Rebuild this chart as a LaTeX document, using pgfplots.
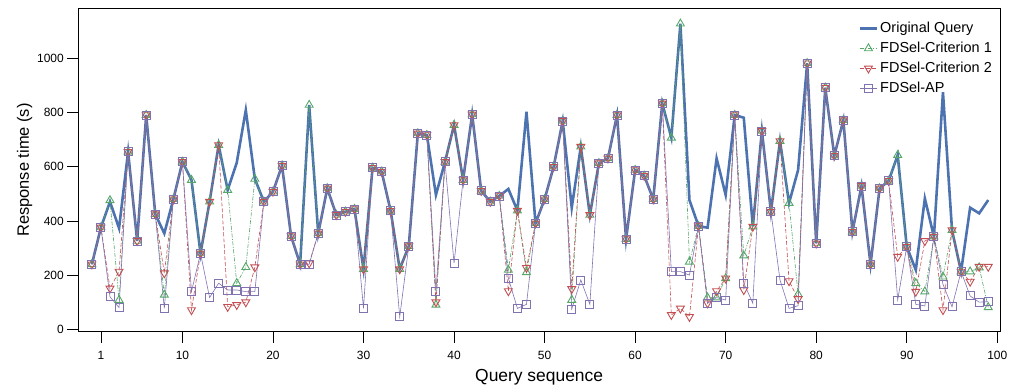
\documentclass[border=0pt]{standalone}
\usepackage{fontspec}
\setmainfont{Liberation Sans}
\usepackage{pgfplots}
\usepackage{pgfplotstable}
\pgfplotsset{compat=1.18}
\definecolor{sbblue}{HTML}{4C72B0}
\definecolor{sbgreen}{HTML}{55A868}
\definecolor{sbred}{HTML}{C44E52}
\definecolor{sbpurple}{HTML}{8172B2}
\pgfplotstableread{
x O C1 C2 AP
0 240 240 240 240
1 376 376 376 376
2 471 476 151 120
3 373 108 213 80
4 655 655 655 655
5 326 326 326 326
6 791 791 791 791
7 425 425 425 425
8 354 127 207 77
9 480 480 480 480
10 618 618 618 618
11 551 551 71 139
12 280 280 280 280
13 471 471 471 117
14 680 680 680 170
15 514 514 83 145
16 615 170 90 145
17 809 229 100 139
18 555 555 229 139
19 471 471 471 471
20 508 508 508 508
21 604 604 604 604
22 344 344 344 344
23 240 240 240 240
24 828 828 244 240
25 354 354 354 354
26 520 520 520 520
27 422 422 422 422
28 434 434 434 434
29 444 444 444 444
30 222 222 222 77
31 596 596 596 596
32 582 582 582 582
33 437 437 437 437
34 222 222 222 46
35 307 307 307 307
36 723 723 723 723
37 717 717 717 717
38 496 90 100 141
39 618 618 618 618
40 754 754 754 244
41 551 551 551 551
42 793 793 793 793
43 511 511 511 511
44 471 471 471 471
45 492 492 492 492
46 518 219 141 188
47 438 438 438 77
48 803 210 227 92
49 391 391 391 391
50 480 480 480 480
51 600 600 600 600
52 769 769 769 769
53 449 108 149 75
54 674 674 674 182
55 422 422 422 92
56 613 613 613 613
57 631 631 631 631
58 791 791 791 791
59 333 333 333 333
60 588 588 588 588
61 567 567 567 567
62 480 480 480 480
63 834 834 834 834
64 707 707 53 213
65 1128 1128 77 213
66 477 249 46 200
67 381 381 381 381
68 375 117 96 96
69 631 117 141 117
70 496 188 188 108
71 791 791 791 791
72 781 272 145 170
73 379 379 379 96
74 732 732 732 732
75 434 434 434 434
76 695 695 695 182
77 466 466 178 77
78 588 129 112 87
79 982 982 982 982
80 317 317 317 317
81 892 892 892 892
82 641 641 641 641
83 772 772 772 772
84 360 360 360 360
85 529 529 529 529
86 240 240 240 240
87 520 520 520 520
88 548 548 548 548
89 643 643 268 108
90 305 305 305 305
91 219 170 139 92
92 483 139 326 86
93 342 342 342 342
94 875 194 71 166
95 366 366 366 83
96 213 213 213 213
97 449 213 176 123
98 428 228 231 100
99 477 81 231 102
}\data
\begin{document}
\begin{tikzpicture}
\begin{axis}[
  width=921.7bp, height=323.4bp, scale only axis,
  xmin=-1.5, xmax=100.3, ymin=-9, ymax=1185,
  xtick={1,10,20,30,40,50,60,70,80,90,100},
  ytick={0,200,400,600,800,1000},
  xtick pos=bottom, ytick pos=left,
  tick align=outside,
  major tick length=11bp,
  tick style={black, line width=0.8pt},
  axis line style={black, line width=1pt},
  /pgf/number format/assume math mode=true,
  /pgf/number format/1000 sep={},
  tick label style={font=\fontsize{12}{14}\selectfont},
  xticklabel style={yshift=-5bp},
  xlabel={Query sequence},
  ylabel={Response time (s)},
  xlabel style={font=\fontsize{17.5}{20}\selectfont, yshift=-3bp},
  ylabel style={font=\fontsize{16.5}{19}\selectfont, yshift=-2bp},
  legend style={at={(1,1)}, anchor=north east, xshift=-3bp, yshift=-10bp, draw=none, fill=none,
    font=\fontsize{14.5}{17}\selectfont, row sep=4bp, cells={anchor=west}},
  legend cell align=left,
  clip=false,
]
\addplot[sbblue, line width=2.6pt] table[x=x, y=O] {\data};
\addlegendentry{Original Query}
\addplot[sbgreen, line width=0.6pt, dash pattern=on 4pt off 1.5pt on 1pt off 1.5pt, mark=triangle, mark size=4.6bp, mark options={solid, line width=0.9pt}] table[x=x, y=C1] {\data};
\addlegendentry{FDSel-Criterion 1}
\addplot[sbred, line width=0.6pt, dash pattern=on 4pt off 2pt, mark=triangle, mark size=4.6bp, mark options={solid, rotate=180, line width=0.9pt}] table[x=x, y=C2] {\data};
\addlegendentry{FDSel-Criterion 2}
\addplot[sbpurple, line width=0.6pt, mark=square, mark size=4bp, mark options={solid, line width=0.9pt}] table[x=x, y=AP] {\data};
\addlegendentry{FDSel-AP}
\end{axis}
\pgfresetboundingbox
\path ([shift={(-78.3bp,-55.3bp)}]current axis.south west) rectangle ([shift={(9bp,8.3bp)}]current axis.north east);
\end{tikzpicture}
\end{document}
